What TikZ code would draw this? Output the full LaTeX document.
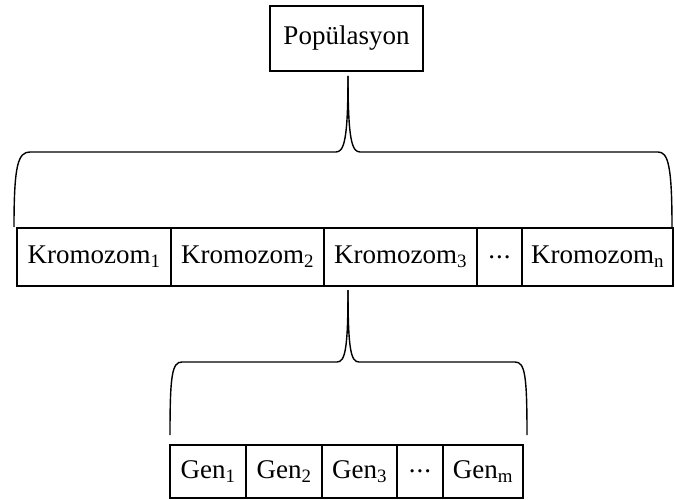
\documentclass[tikz,border=0pt]{standalone}
\usepackage{fontspec}
\setmainfont{Liberation Serif}
\usepackage{tikz}
\usetikzlibrary{positioning,calc}

\newcommand{\middots}{\vphantom{Kg\textsubscript{1}}\raisebox{4.5pt}{.\kern1pt.\kern1pt.}}

\begin{document}
\begin{tikzpicture}[
    x=1pt, y=-1pt,
    block/.style={rectangle, draw, line width=1.4pt, outer sep=0pt, inner sep=1pt, font=\fontsize{27}{31}\selectfont},
    krom/.style={block, minimum height=58pt},
    gen/.style={block, minimum height=53pt},
    brace/.style={line width=1.4pt}
]
    \useasboundingbox (0,0) rectangle (675,500);

    % Population
    \node[block, minimum width=153pt, minimum height=65pt] (pop) at (346.5,38.5) {Popülasyon};

    % Chromosomes
    \node[krom, minimum width=154pt, anchor=north west] (k1) at (17,228) {Kromozom\textsubscript{1}};
    \node[krom, minimum width=153pt, right=0pt of k1] (k2) {Kromozom\textsubscript{2}};
    \node[krom, minimum width=153pt, right=0pt of k2] (k3) {Kromozom\textsubscript{3}};
    \node[krom, minimum width=45pt, right=0pt of k3] (kd) {\middots};
    \node[krom, minimum width=151pt, right=0pt of kd] (kn) {Kromozom\textsubscript{n}};

    % Genes
    \node[gen, minimum width=76pt, anchor=north west] (g1) at (170,445) {Gen\textsubscript{1}};
    \node[gen, minimum width=76pt, right=0pt of g1] (g2) {Gen\textsubscript{2}};
    \node[gen, minimum width=75pt, right=0pt of g2] (g3) {Gen\textsubscript{3}};
    \node[gen, minimum width=46pt, right=0pt of g3] (gd) {\middots};
    \node[gen, minimum width=80pt, right=0pt of gd] (gm) {Gen\textsubscript{m}};

    % Braces
    \draw[brace] (14,227) .. controls (14,165) and (18,152) .. (30,152) -- (336,152)
        .. controls (344,152) and (348,140) .. (348,76);
    \draw[brace] (348,76) .. controls (348,140) and (352,152) .. (360,152) -- (658,152)
        .. controls (668,152) and (672,165) .. (672,227);

    \draw[brace] (170,435) .. controls (170,375) and (172,362) .. (182,362) -- (337,362)
        .. controls (345,362) and (348,350) .. (348,290);
    \draw[brace] (348,290) .. controls (348,350) and (351,362) .. (359,362) -- (515,362)
        .. controls (525,362) and (527,375) .. (527,435);
\end{tikzpicture}
\end{document}
